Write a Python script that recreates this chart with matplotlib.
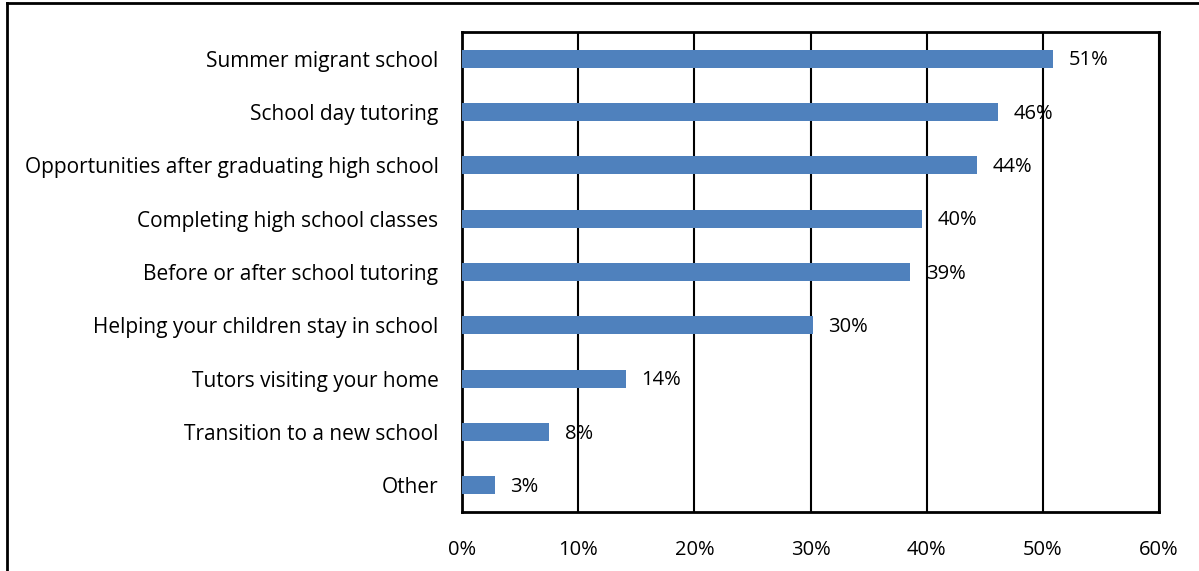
import matplotlib.pyplot as plt
from matplotlib.lines import Line2D

plt.rcParams['font.family'] = ['Open Sans', 'DejaVu Sans']

categories = ["Summer migrant school", "School day tutoring",
              "Opportunities after graduating high school",
              "Completing high school classes", "Before or after school tutoring",
              "Helping your children stay in school", "Tutors visiting your home",
              "Transition to a new school", "Other"]
shares = [50.9, 46.1, 44.3, 39.6, 38.6, 30.2, 14.1, 7.5, 2.8]
ticks = [0, 10, 20, 30, 40, 50, 60]

fig = plt.figure(figsize=(11.99, 5.71), dpi=100)
ax = fig.add_axes([462 / 1199, 59 / 571, 697 / 1199, 480 / 571])

ypos = list(range(len(categories)))[::-1]
ax.barh(ypos, shares, height=0.34, color="#4f81bd", zorder=3)

# value labels to the right of each bar
for y, v in zip(ypos, shares):
    ax.text(v + 1.35, y - 0.03, f"{round(v)}%", va="center", ha="left",
            fontsize=14.5, color="black", zorder=4)

ax.set_xlim(0, 60)
ax.set_ylim(-0.5, len(categories) - 0.5)
ax.set_xticks(ticks)
ax.set_xticklabels([f"{t}%" for t in ticks], fontsize=14.5)
ax.set_yticks(ypos)
ax.set_yticklabels(categories, fontsize=15)
ax.tick_params(length=0, pad=20, axis="x")
ax.tick_params(length=0, pad=17, axis="y")
ax.xaxis.grid(True, color="black", linewidth=1.5, zorder=0)
for s in ax.spines.values():
    s.set_linewidth(2)
    s.set_color("black")

# outer frame (top and left edges)
fig.add_artist(Line2D([7 / 1199, 7 / 1199], [0, 1 - 3 / 571], transform=fig.transFigure,
                      color="black", linewidth=2))
fig.add_artist(Line2D([7 / 1199, 1], [1 - 3 / 571, 1 - 3 / 571], transform=fig.transFigure,
                      color="black", linewidth=2))

fig.savefig("out.png", dpi=100)
